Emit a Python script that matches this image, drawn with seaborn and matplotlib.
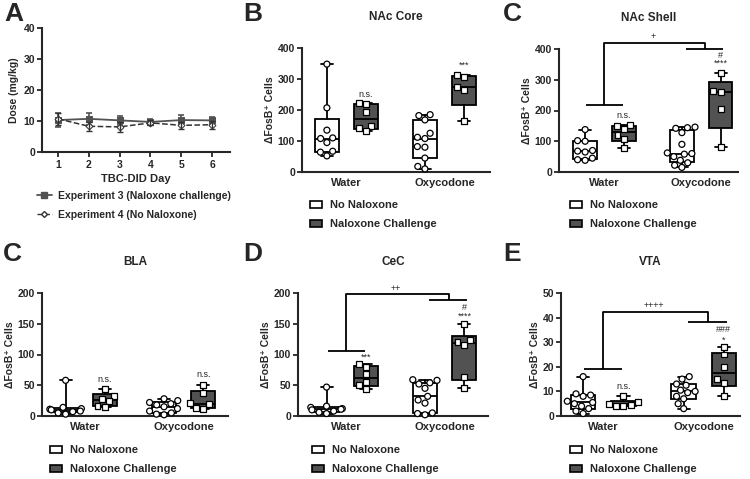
import numpy as np
import pandas as pd
import matplotlib
matplotlib.use("Agg")
import matplotlib.pyplot as plt
import seaborn as sns
from matplotlib.patches import Patch
from matplotlib.lines import Line2D
from matplotlib.markers import MarkerStyle

# -----------------------------------------
# 1. DATA
# -----------------------------------------

days = [1, 2, 3, 4, 5, 6]
exp3_dose = [10.3, 10.7, 10.2, 9.7, 10.3, 10.2]
exp3_sem = [2.2, 1.9, 1.4, 1.1, 1.6, 1.2]
exp4_dose = [10.7, 8.3, 8.1, 9.4, 8.6, 8.8]
exp4_sem = [1.9, 1.5, 1.6, 0.8, 1.2, 1.3]

drinks = ["Water", "Oxycodone"]
groups = ["No Naloxone", "Naloxone Challenge"]

core_water_nonal = [348, 207, 135, 110, 108, 95, 67, 64, 52]
core_water_nal = [222, 219, 195, 149, 141, 132]
core_oxy_nonal = [185, 182, 168, 125, 112, 108, 82, 80, 45, 18, 10]
core_oxy_nal = [312, 305, 275, 266, 165]

shell_water_nonal = [138, 102, 100, 70, 68, 65, 45, 40, 38]
shell_water_nal = [152, 150, 140, 120, 107, 78]
shell_oxy_nonal = [146, 144, 142, 128, 90, 62, 60, 58, 50, 38, 30, 22, 15]
shell_oxy_nal = [322, 264, 260, 204, 80]

bla_water_nonal = [58, 14, 12, 11, 10, 8, 7, 5, 3]
bla_water_nal = [44, 33, 28, 24, 16, 14]
bla_oxy_nonal = [28, 25, 22, 20, 18, 15, 12, 8, 5, 3, 2]
bla_oxy_nal = [50, 38, 21, 19, 13, 12]

cec_water_nonal = [47, 16, 14, 12, 11, 10, 8, 6, 4]
cec_water_nal = [84, 80, 68, 56, 50, 44]
cec_oxy_nonal = [59, 58, 54, 52, 45, 32, 26, 21, 5, 4, 2]
cec_oxy_nal = [150, 124, 121, 116, 64, 45]

vta_water_nonal = [16, 9, 8.5, 8, 6, 5.5, 5, 4, 3, 2, 1]
vta_water_nal = [8, 5.5, 5, 4.5, 4, 4]
vta_oxy_nonal = [16, 15, 13, 12.5, 10.5, 10, 9.5, 8, 7, 5, 3]
vta_oxy_nal = [28, 25, 20, 15, 13.5, 8]

# -----------------------------------------
# 2. STYLE
# -----------------------------------------

sns.set_style("ticks")
plt.rcParams["font.family"] = ["Liberation Sans", "DejaVu Sans"]
plt.rcParams["font.weight"] = "bold"
plt.rcParams["axes.labelweight"] = "bold"
plt.rcParams["axes.titleweight"] = "bold"

W, H = 750, 479
DARK = "#525252"
DODGE = 0.2
fig = plt.figure(figsize=(W / 100, H / 100), dpi=100)


def add_ax(l, t, r, b):
    return fig.add_axes([l / W, 1 - b / H, (r - l) / W, (b - t) / H])


def style_axes(ax):
    sns.despine(ax=ax)
    for s in ["left", "bottom"]:
        ax.spines[s].set_linewidth(1.5)
    ax.tick_params(axis="y", length=3.5, width=1.3, labelsize=7.5, pad=1.5)
    ax.tick_params(axis="x", length=0, labelsize=8, pad=4)
    for lab in ax.get_xticklabels() + ax.get_yticklabels():
        lab.set_fontweight("bold")


def make_df(wn, wl, on, ol):
    rows = []
    for d, g, vals in [("Water", groups[0], wn), ("Water", groups[1], wl),
                       ("Oxycodone", groups[0], on), ("Oxycodone", groups[1], ol)]:
        for v in vals:
            rows.append({"drink": d, "group": g, "cells": v})
    df = pd.DataFrame(rows)
    # dodged position of each group around its category
    df["xpos"] = df["drink"].map({d: i for i, d in enumerate(drinks)}) + \
        np.where(df["group"] == groups[0], -DODGE, DODGE)
    return df


def box_stats(vals):
    v = np.sort(np.asarray(vals, dtype=float))
    q1, med, q3 = np.percentile(v, [25, 50, 75], method="weibull")
    return dict(med=med, q1=q1, q3=q3, whislo=v.min(), whishi=v.max(), fliers=[])


SQUARE = MarkerStyle("s")
SQUARE_PATH = SQUARE.get_path().transformed(SQUARE.get_transform())


def region_panel(ax, df, ymax, step, xlim, title):
    stats, pos = [], []
    for d in drinks:
        for g in groups:
            sub = df[(df.drink == d) & (df.group == g)]
            stats.append(box_stats(sub["cells"].values))
            pos.append(sub["xpos"].iloc[0])
    line = dict(color="black", linewidth=1.3)
    bp = ax.bxp(stats, positions=pos, widths=0.245, patch_artist=True,
                showfliers=False, boxprops=dict(edgecolor="black", linewidth=1.3),
                whiskerprops=line, capprops=line, medianprops=line, manage_ticks=False)
    for patch, c in zip(bp["boxes"], ["white", DARK, "white", DARK]):
        patch.set_facecolor(c)
    n_before = len(ax.collections)
    sns.swarmplot(data=df, x="xpos", y="cells", hue="group", hue_order=groups,
                  palette=["white", "white"], native_scale=True, orient="x",
                  size=4.3, edgecolor="black", linewidth=0.9, legend=False,
                  ax=ax, zorder=3, clip_on=False)
    # naloxone group (right of each category) drawn with square markers
    for coll in ax.collections[n_before:]:
        offs = np.asarray(coll.get_offsets())
        if len(offs) and offs[0, 0] - np.round(offs[0, 0]) > 0:
            coll.set_paths([SQUARE_PATH])
    ax.set_ylim(0, ymax)
    ax.set_xlim(*xlim)
    ax.set_yticks(np.arange(0, ymax + 1, step))
    ax.set_xticks([0, 1])
    ax.set_xticklabels(drinks)
    ax.set_xlabel("")
    ax.set_ylabel("\u0394FosB\u207a Cells", fontsize=7.5, fontweight="bold", labelpad=2)
    ax.set_title(title, fontsize=8.5, fontweight="bold", pad=20)
    style_axes(ax)


def sig(ax, x, y, s, size=6.5):
    ax.text(x, y, s, ha="center", va="center", fontsize=size,
            fontweight="normal", clip_on=False)


def bracket(ax, y_water, y_top, y_oxy, label, y_label):
    kw = dict(color="black", linewidth=1.3, clip_on=False, solid_capstyle="butt")
    ax.plot([-0.19, 0.19], [y_water, y_water], **kw)
    ax.plot([0, 0, 1.04, 1.04], [y_water, y_top, y_top, y_oxy], **kw)
    ax.plot([0.84, 1.23], [y_oxy, y_oxy], **kw)
    sig(ax, 0.5, y_label, label)


def region_legend(x, y):
    handles = [Patch(facecolor="white", edgecolor="black", linewidth=1.2),
               Patch(facecolor=DARK, edgecolor="black", linewidth=1.2)]
    fig.legend(handles, groups, loc="upper left", bbox_to_anchor=(x / W, 1 - y / H),
               frameon=False, borderpad=0, borderaxespad=0, handlelength=1.1,
               handleheight=0.6, handletextpad=0.7, labelspacing=0.85,
               prop=dict(weight="bold", size=8))


# -----------------------------------------
# 3. PANEL A - DOSE
# -----------------------------------------

axA = add_ax(42, 28, 230, 152)
sns.lineplot(x=days, y=exp3_dose, ax=axA, color=DARK, marker="s", markersize=5,
             markeredgecolor=DARK, linewidth=1.3)
axA.errorbar(days, exp3_dose, yerr=exp3_sem, fmt="none", ecolor=DARK,
             elinewidth=1.2, capsize=2.5, capthick=1.2)
sns.lineplot(x=days, y=exp4_dose, ax=axA, color="#333333", marker="D", markersize=3.5,
             markerfacecolor="white", markeredgecolor="#333333", linewidth=1.1,
             linestyle="--")
axA.errorbar(days, exp4_dose, yerr=exp4_sem, fmt="none", ecolor="#333333",
             elinewidth=1.0, capsize=2.5, capthick=1.0)
axA.set_xlim(0.48, 6.58)
axA.set_ylim(0, 40)
axA.set_yticks([0, 10, 20, 30, 40])
axA.set_xticks(days)
axA.set_xlabel("TBC-DID Day", fontsize=8, fontweight="bold", labelpad=3)
axA.set_ylabel("Dose (mg/kg)", fontsize=7.5, fontweight="bold", labelpad=3)
style_axes(axA)
axA.tick_params(axis="x", length=3.5, width=1.3, labelsize=7.5, pad=2)

fig.legend([Line2D([], [], color=DARK, marker="s", markersize=4, linewidth=1.3),
            Line2D([], [], color="#333333", marker="D", markersize=3,
                   markerfacecolor="white", linestyle="--", linewidth=1.0)],
           ["Experiment 3 (Naloxone challenge)", "Experiment 4 (No Naloxone)"],
           loc="upper left", bbox_to_anchor=(37 / W, 1 - 191 / H), frameon=False,
           borderpad=0, borderaxespad=0, handlelength=1.4, handletextpad=0.6,
           labelspacing=0.85, prop=dict(weight="bold", size=7.5))

# -----------------------------------------
# 4. REGION PANELS
# -----------------------------------------

axB = add_ax(302, 48, 490, 172)
region_panel(axB, make_df(core_water_nonal, core_water_nal, core_oxy_nonal, core_oxy_nal),
             400, 100, (-0.454, 1.464), "NAc Core")
sig(axB, 0.2, 249, "n.s.")
sig(axB, 1.2, 343, "***")
region_legend(310, 200)

axC = add_ax(559, 49, 738, 172)
region_panel(axC, make_df(shell_water_nonal, shell_water_nal, shell_oxy_nonal, shell_oxy_nal),
             400, 100, (-0.47, 1.38), "NAc Shell")
sig(axC, 0.2, 183, "n.s.")
sig(axC, 1.2, 353, "****")
sig(axC, 1.2, 380, "#")
bracket(axC, 218, 420, 400, "+", 440)
region_legend(570, 200)

axBLA = add_ax(42, 293, 228, 416)
region_panel(axBLA, make_df(bla_water_nonal, bla_water_nal, bla_oxy_nonal, bla_oxy_nal),
             200, 50, (-0.44, 1.45), "BLA")
sig(axBLA, 0.2, 60, "n.s.")
sig(axBLA, 1.2, 67, "n.s.")
region_legend(50, 445)

axD = add_ax(298, 293, 488, 416)
region_panel(axD, make_df(cec_water_nonal, cec_water_nal, cec_oxy_nonal, cec_oxy_nal),
             200, 50, (-0.49, 1.44), "CeC")
sig(axD, 0.2, 96, "***")
sig(axD, 1.2, 163, "****")
sig(axD, 1.2, 176, "#")
bracket(axD, 106, 199, 188, "++", 208)
region_legend(312, 445)

axE = add_ax(561, 293, 740, 416)
region_panel(axE, make_df(vta_water_nonal, vta_water_nal, vta_oxy_nonal, vta_oxy_nal),
             50, 10, (-0.42, 1.36), "VTA")
sig(axE, 0.2, 11.8, "n.s.")
sig(axE, 1.2, 31, "*")
sig(axE, 1.2, 35, "###")
bracket(axE, 19, 42.3, 38.2, "++++", 44.8)
region_legend(570, 445)

# -----------------------------------------
# 5. PANEL LETTERS
# -----------------------------------------

for letter, x, y in [("A", 4, 2), ("B", 243, 2), ("C", 503, 2),
                     ("C", 3, 242), ("D", 243, 242), ("E", 503, 242)]:
    fig.text(x / W, 1 - y / H, letter, fontsize=19, fontweight="bold",
             ha="left", va="top")

fig.savefig("out.png", dpi=100)
